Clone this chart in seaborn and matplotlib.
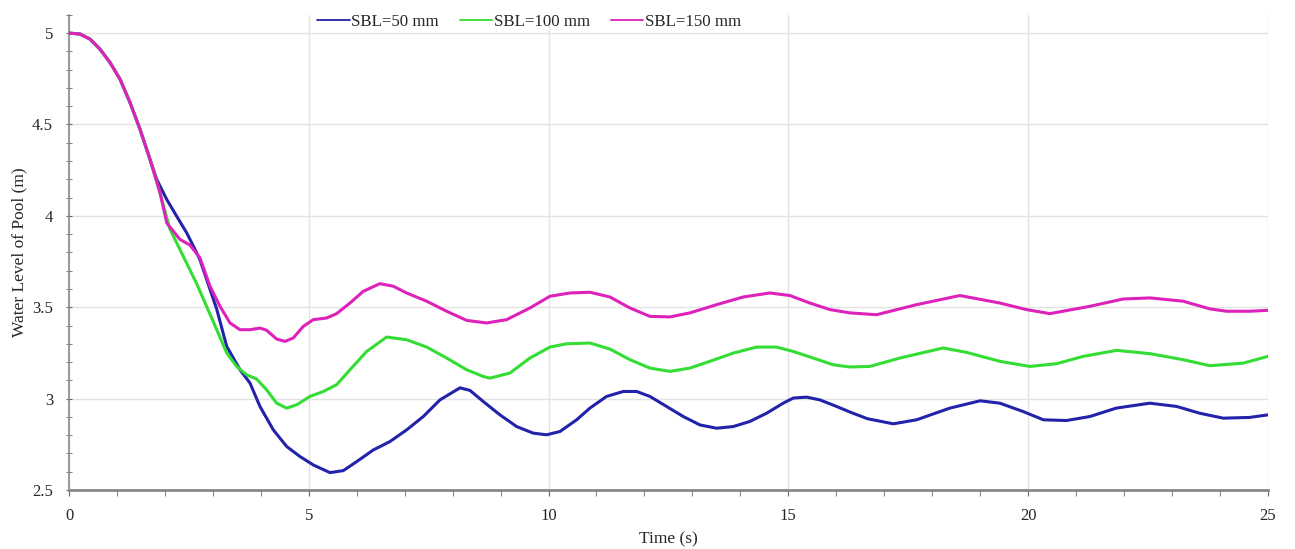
import pandas as pd
import seaborn as sns
import matplotlib.pyplot as plt
from matplotlib.ticker import MultipleLocator

# values
t_50 = [0, 0.229, 0.438, 0.646, 0.855, 1.063, 1.272, 1.480, 1.689, 1.828, 2.037, 2.245, 2.454,
        2.662, 2.73, 3.08, 3.288, 3.565, 3.774, 3.982, 4.260, 4.539, 4.816, 5.094, 5.442, 5.720,
        5.998, 6.345, 6.693, 7.041, 7.388, 7.736, 8.153, 8.361, 8.639, 8.987, 9.335, 9.681, 9.960,
        10.238, 10.586, 10.863, 11.211, 11.558, 11.837, 12.114, 12.462, 12.809, 13.157, 13.505,
        13.851, 14.199, 14.547, 14.894, 15.103, 15.381, 15.659, 16.007, 16.30, 16.65, 17.19,
        17.675, 18.37, 19.0, 19.412, 19.90, 20.32, 20.80, 21.29, 21.84, 22.54, 23.10, 23.58,
        24.07, 24.62, 25.0]
level_50 = [5.0, 4.995, 4.967, 4.912, 4.839, 4.748, 4.620, 4.474, 4.309, 4.200, 4.090, 3.998, 3.907,
            3.798, 3.76, 3.49, 3.286, 3.158, 3.085, 2.957, 2.829, 2.738, 2.683, 2.637, 2.595, 2.606,
            2.655, 2.719, 2.765, 2.829, 2.902, 2.993, 3.059, 3.045, 2.984, 2.911, 2.847, 2.811, 2.802,
            2.820, 2.884, 2.948, 3.012, 3.039, 3.039, 3.012, 2.957, 2.902, 2.856, 2.838,
            2.847, 2.875, 2.920, 2.975, 3.003, 3.008, 2.993, 2.957, 2.925, 2.890, 2.862,
            2.884, 2.948, 2.988, 2.975, 2.929, 2.884, 2.880, 2.902, 2.948, 2.975, 2.957, 2.920,
            2.893, 2.897, 2.911]

t_100 = [0, 0.229, 0.438, 0.646, 0.855, 1.063, 1.272, 1.480, 1.689, 1.897, 2.1, 2.38, 2.66,
         3.01, 3.288, 3.496, 3.705, 3.913, 4.121, 4.330, 4.539, 4.747, 5.025, 5.303, 5.581,
         5.859, 6.207, 6.624, 7.041, 7.458, 7.875, 8.292, 8.639, 8.778, 9.195, 9.612, 10.029,
         10.377, 10.863, 11.280, 11.697, 12.114, 12.531, 12.948, 13.365, 13.851, 14.339, 14.756,
         15.103, 15.520, 15.937, 16.284, 16.701, 17.327, 18.230, 18.717, 19.412, 20.038, 20.594,
         21.149, 21.845, 22.540, 23.234, 23.791, 24.485, 25.0]
level_100 = [5.0, 4.995, 4.967, 4.912, 4.839, 4.748, 4.620, 4.474, 4.309, 4.127, 3.93, 3.78, 3.63,
             3.42, 3.25, 3.176, 3.130, 3.107, 3.048, 2.975, 2.948, 2.966, 3.012, 3.039, 3.076,
             3.158, 3.258, 3.337, 3.322, 3.282, 3.222, 3.158, 3.121, 3.112, 3.140, 3.222, 3.282,
             3.300, 3.304, 3.271, 3.213, 3.167, 3.149, 3.167, 3.204, 3.249, 3.282, 3.282,
             3.258, 3.222, 3.185, 3.173, 3.176, 3.222, 3.277, 3.253, 3.204, 3.176, 3.191,
             3.231, 3.264, 3.246, 3.213, 3.180, 3.194, 3.231]

t_150 = [0, 0.229, 0.438, 0.646, 0.855, 1.063, 1.272, 1.480, 1.689, 1.897, 2.04, 2.314, 2.523,
         2.73, 2.94, 3.148, 3.357, 3.565, 3.774, 3.982, 4.121, 4.330, 4.504, 4.677, 4.885, 5.094,
         5.373, 5.581, 5.859, 6.136, 6.484, 6.762, 7.041, 7.458, 7.875, 8.292, 8.709, 9.126,
         9.612, 10.029, 10.446, 10.863, 11.280, 11.697, 12.114, 12.531, 12.948, 13.505, 14.060,
         14.616, 15.033, 15.450, 15.867, 16.284, 16.840, 17.675, 18.578, 19.412, 19.968, 20.455,
         21.289, 21.984, 22.540, 23.234, 23.791, 24.139, 24.625, 25.0]
level_150 = [5.0, 4.995, 4.967, 4.912, 4.839, 4.748, 4.620, 4.474, 4.309, 4.127, 3.96, 3.871, 3.840,
             3.77, 3.615, 3.505, 3.414, 3.377, 3.377, 3.386, 3.374, 3.326, 3.313, 3.332, 3.395, 3.432,
             3.441, 3.465, 3.523, 3.587, 3.629, 3.615, 3.578, 3.533, 3.478, 3.428, 3.414, 3.432,
             3.496, 3.560, 3.578, 3.582, 3.556, 3.496, 3.450, 3.447, 3.469, 3.514, 3.556,
             3.578, 3.564, 3.523, 3.487, 3.469, 3.459, 3.514, 3.564, 3.523, 3.487, 3.465,
             3.505, 3.545, 3.551, 3.533, 3.491, 3.478, 3.478, 3.483]

labels = ['SBL=50 mm', 'SBL=100 mm', 'SBL=150 mm']
colors = ['#2222aa', '#33dd33', '#dd22bb']
series = [(t_50, level_50), (t_100, level_100), (t_150, level_150)]

df = pd.concat([pd.DataFrame({'t': t, 'level': v, 'case': lab})
                for (t, v), lab in zip(series, labels)])

sns.set_style('white')
plt.rcParams['font.family'] = ['Liberation Serif', 'DejaVu Serif']

fig, ax = plt.subplots(figsize=(12.95, 5.49), dpi=100)
fig.subplots_adjust(left=0.0533, right=0.979, bottom=0.1075, top=0.973)

for i, (lab, col) in enumerate(zip(labels, colors)):
    sub = df[df['case'] == lab]
    sns.lineplot(x='t', y='level', data=sub, color=col, linewidth=2.2, ax=ax, label=lab,
                 sort=False, estimator=None, zorder=3 + i, solid_joinstyle='round')

ax.set_xlim(0, 25)
ax.set_ylim(2.5, 5.1)
ax.xaxis.set_major_locator(MultipleLocator(5))
ax.xaxis.set_minor_locator(MultipleLocator(1))
ax.set_yticks([2.5, 3, 3.5, 4, 4.5, 5])
ax.set_yticklabels(['2.5', '3', '3.5', '4', '4.5', '5'])
ax.yaxis.set_minor_locator(MultipleLocator(0.1))
ax.grid(True, which='major', color='#e3e3e3', linewidth=1)

for s in ['top', 'right']:
    ax.spines[s].set_visible(False)
ax.spines['left'].set_color('#888888')
ax.spines['left'].set_linewidth(1.2)
ax.spines['bottom'].set_color('#888888')
ax.spines['bottom'].set_linewidth(2)

ax.tick_params(axis='x', which='both', bottom=True, direction='out', length=4,
               color='#666666', labelsize=12, pad=9)
ax.tick_params(axis='y', which='both', left=True, direction='inout', length=5,
               color='#666666', labelsize=12, pad=9)

ax.set_xlabel('Time (s)', fontsize=12.5, labelpad=5)
ax.set_ylabel('Water Level of Pool (m)', fontsize=12.5, labelpad=3)

leg = ax.legend(loc='center', bbox_to_anchor=(0.384, 0.984), ncol=3, frameon=False,
                fontsize=12.2, handlelength=1.9, handletextpad=0.1, columnspacing=1.25)
for h in leg.legend_handles:
    h.set_linewidth(1.3)

plt.savefig('out.png', dpi=100)
